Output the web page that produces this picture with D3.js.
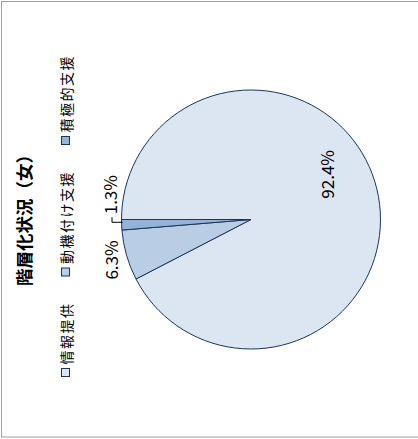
<!DOCTYPE html>
<html><head><meta charset="utf-8">
<script src="https://cdn.jsdelivr.net/npm/d3@7"></script>
<style>html,body{margin:0;padding:0;background:#fff;}svg{display:block;}</style>
</head><body>
<script>
const categories = ["情報提供", "動機付け支援", "積極的支援"];
const values = [92.4, 6.3, 1.3];
const labels = ["92.4%", "6.3%", "1.3%"];
const colors = ["#DCE6F2", "#B9CDE5", "#95B3D7"];
const title = "階層化状況（女）";

const W = 418, H = 439;
const svg = d3.select("body").append("svg").attr("width", W).attr("height", H);
svg.append("rect").attr("x", 1.5).attr("y", 1.5).attr("width", W + 10).attr("height", H - 3.5)
  .attr("fill", "#fff").attr("stroke", "#a0a0a0").attr("stroke-width", 1);

// Original (unrotated) chart frame: width H, height W
const g = svg.append("g").attr("transform", `translate(0,${H}) rotate(-90)`);
const cx = 219.5, cy = 251, r = 129.5;
const stroke = "#1b355a";
const font = "'Noto Sans CJK JP','Noto Sans',sans-serif";

const pie = d3.pie().sort(null).value(d => d)(values);
const arc = d3.arc().innerRadius(0).outerRadius(r);
const pg = g.append("g").attr("transform", `translate(${cx},${cy})`);
pg.selectAll("path").data(pie).join("path")
  .attr("d", arc).attr("fill", (d, i) => colors[i])
  .attr("stroke", stroke).attr("stroke-width", 1).attr("stroke-linejoin", "round");

const mid = d => (d.startAngle + d.endAngle) / 2;
const pt = (a, rad) => [Math.sin(a) * rad, -Math.cos(a) * rad];

// Labels
const lg = pg.append("g").attr("font-family", font).attr("font-size", 17).attr("fill", "#000");
{
  const d = pie[0];
  const [x, y] = pt(mid(d) - 0.3, r * 0.68);
  lg.append("text").attr("x", x).attr("y", y).attr("text-anchor", "middle")
    .attr("dominant-baseline", "central").text(labels[0]);
}
{
  const d = pie[1];
  const [x, y] = pt(mid(d), r + 17);
  lg.append("text").attr("x", x).attr("y", y).attr("text-anchor", "middle")
    .attr("dominant-baseline", "central").text(labels[1]);
}
{
  const d = pie[2];
  const [ex, ey] = pt(mid(d), r);
  const elbowY = -r - 9.5;
  const lx = ex + 10.5;
  pg.append("path").attr("d", `M${ex + 2.5},${ey + 1}V${elbowY}H${lx - 3}`)
    .attr("fill", "none").attr("stroke", "#000").attr("stroke-width", 1);
  lg.append("text").attr("x", lx).attr("y", elbowY - 3).attr("text-anchor", "start")
    .attr("dominant-baseline", "central").text(labels[2]);
}

// Title
g.append("text").attr("x", 223).attr("y", 23).attr("text-anchor", "middle")
  .attr("dominant-baseline", "central").attr("font-family", font)
  .attr("font-size", 17.5).attr("font-weight", "bold").text(title);

// Legend
const leg = g.append("g").attr("font-family", font).attr("font-size", 14);
const items = leg.selectAll("g").data(categories).join("g");
items.append("rect").attr("x", 0).attr("y", 61.5).attr("width", 8).attr("height", 8)
  .attr("fill", (d, i) => colors[i]).attr("stroke", stroke).attr("stroke-width", 1);
items.append("text").attr("x", 12).attr("y", 65.5).attr("dominant-baseline", "central")
  .attr("letter-spacing", "1.5px").text(d => d);
const widths = [];
items.each(function() { widths.push(12 + this.querySelector("text").getComputedTextLength() - 1.5); });
const gap = 28;
const total = d3.sum(widths) + gap * (widths.length - 1);
let x0 = 222.5 - total / 2;
items.attr("transform", (d, i) => { const t = `translate(${x0},0)`; x0 += widths[i] + gap; return t; });
</script>
</body></html>
